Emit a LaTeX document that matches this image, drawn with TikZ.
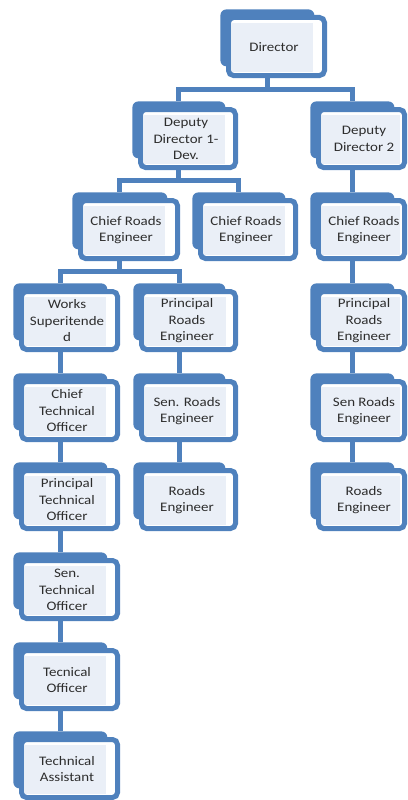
\documentclass[tikz,border=0pt]{standalone}
\usepackage{fontspec}
\setmainfont{Carlito}[FakeStretch=1.15]
\usetikzlibrary{backgrounds}

\definecolor{boxblue}{RGB}{79,129,189}
\definecolor{boxfill}{RGB}{234,239,247}
\definecolor{boxtext}{RGB}{45,45,45}

\tikzset{every picture/.style={line width=0.75pt}}
\tikzset{
  backbox/.style={fill=boxblue, rounded corners=6pt, inner sep=0pt, minimum height=57pt, anchor=north west},
  frontbox/.style={draw=boxblue, fill=white, line width=5pt, rounded corners=5pt},
  textbox/.style={inner sep=0pt, align=center, text=boxtext, font=\fontsize{13}{16.5}\selectfont},
  link/.style={draw=boxblue, line width=5pt},
}

% box: name, left, top, width, text
\newcommand{\orgbox}[5]{%
  \node[backbox, minimum width=#4-13] (#1) at (#2,#3) {};
  \draw[frontbox] (#2+8.5,#3+8.5) rectangle (#2+#4-2.5,#3+66.5);
  \fill[boxfill] (#2+12,#3+14) rectangle ({#2+min(93,#4-7)},#3+63);
  \node[textbox] (#1-t) at (#2+54,#3+38) {#5};
}

\begin{document}
\begin{tikzpicture}[x=1pt,y=1pt,yscale=-1]
    \useasboundingbox (0,0) rectangle (407,800);

    %Shape: top
    \orgbox{dir}{220}{9}{107}{Director}

    %Shape: deputies
    \orgbox{depone}{132}{101}{106}{Deputy\\Director 1-\\Dev.}
    \orgbox{deptwo}{310}{101}{97}{Deputy\\Director 2}

    %Shape: chief roads engineers
    \orgbox{creleft}{72}{192}{108}{Chief Roads\\Engineer}
    \orgbox{cremid}{192}{192}{106}{Chief Roads\\Engineer}
    \orgbox{creright}{310}{192}{97}{Chief Roads\\Engineer}

    %Shape: left column
    \orgbox{works}{13}{283}{107}{Works\\Superitende\\d}
    \orgbox{cto}{13}{373}{107}{Chief\\Technical\\Officer}
    \orgbox{pto}{13}{462}{107}{Principal\\Technical\\Officer}
    \orgbox{sto}{13}{552}{107}{Sen.\\Technical\\Officer}
    \orgbox{tof}{13}{642}{107}{Tecnical\\Officer}
    \orgbox{tas}{13}{731}{107}{Technical\\Assistant}

    %Shape: middle column
    \orgbox{prmid}{133}{283}{105}{Principal\\Roads\\Engineer}
    \orgbox{senmid}{133}{373}{105}{Sen. Roads\\Engineer}
    \orgbox{rdmid}{133}{462}{105}{Roads\\Engineer}

    %Shape: right column
    \orgbox{prright}{310}{283}{97}{Principal\\Roads\\Engineer}
    \orgbox{senright}{310}{373}{97}{Sen Roads\\Engineer}
    \orgbox{rdright}{310}{462}{97}{Roads\\Engineer}

    %Straight Lines
    \begin{scope}[on background layer]
    \draw[link] (depone.north) -- ++(0,-12) -| (dir.south);
    \draw[link] (deptwo.north) -- ++(0,-12) -| (dir.south);
    \draw[link] (creleft.north) -- ++(0,-12) -| (depone.south);
    \draw[link] (cremid.north) -- ++(0,-12) -| (depone.south);
    \draw[link] (deptwo.south) -- (creright.north);
    \draw[link] (works.north) -- ++(0,-12) -| (creleft.south);
    \draw[link] (prmid.north) -- ++(0,-12) -| (creleft.south);
    \draw[link] (works.south) -- (cto.north);
    \draw[link] (cto.south) -- (pto.north);
    \draw[link] (pto.south) -- (sto.north);
    \draw[link] (sto.south) -- (tof.north);
    \draw[link] (tof.south) -- (tas.north);
    \draw[link] (prmid.south) -- (senmid.north);
    \draw[link] (senmid.south) -- (rdmid.north);
    \draw[link] (creright.south) -- (prright.north);
    \draw[link] (prright.south) -- (senright.north);
    \draw[link] (senright.south) -- (rdright.north);
    \end{scope}

\end{tikzpicture}
\end{document}
